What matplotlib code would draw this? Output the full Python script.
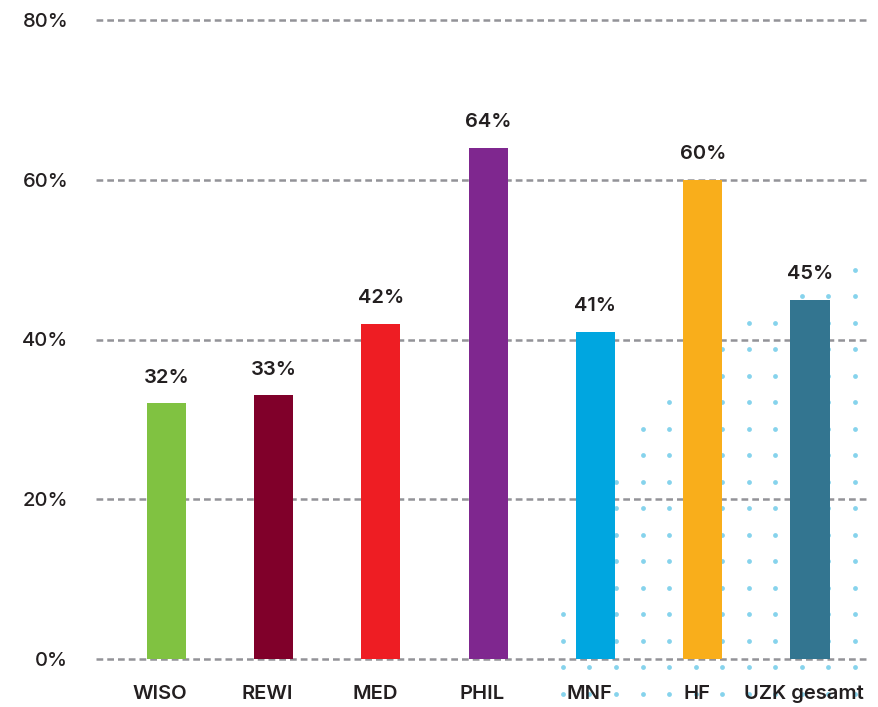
import numpy as np
import matplotlib
matplotlib.use("Agg")
import matplotlib.pyplot as plt
import matplotlib.transforms as mtransforms

plt.rcParams['font.family'] = ['Inter', 'DejaVu Sans']

# data
faculties = ["WISO", "REWI", "MED", "PHIL", "MNF", "HF", "UZK gesamt"]
shares = [32, 33, 42, 64, 41, 60, 45]
bar_colors = ["#80c241", "#80002a", "#ee1d23", "#7f278f", "#00a6e0", "#f9ae1b", "#337590"]
yticks = [0, 20, 40, 60, 80]

# decorative dot pattern (dots per column, left to right)
dot_counts = [4, 4, 9, 11, 12, 13, 14, 15, 15, 16, 16, 17]

text_col = "#231f20"

fig = plt.figure(figsize=(8.79, 7.07), dpi=100)
ax = fig.add_axes([96 / 879, 48 / 707, 774 / 879, 639 / 707])

x = np.arange(len(faculties))

# dots behind the bars
dx, dy = 0.2474, 3.32
x0, y0 = 3.697, -4.38
for k, n in enumerate(dot_counts):
    xs = np.full(n, x0 + k * dx)
    ys = y0 + np.arange(n) * dy
    ax.scatter(xs, ys, s=12, color="#86d3ec", linewidths=0, zorder=1, clip_on=False)

for yv in yticks:
    ax.axhline(yv, color="#939398", lw=1.8, ls=(0, (2.7, 1.6)), zorder=2, clip_on=False)

ax.bar(x, shares, width=0.364, color=bar_colors, zorder=3)

for xi, v in zip(x, shares):
    ax.annotate(f"{v}%", (xi, v), xytext=(0, 12), textcoords="offset points",
                ha="center", va="bottom", fontsize=14.5, fontweight="semibold", color=text_col)

ax.set_xlim(-0.655, 6.559)
ax.set_ylim(0, 80)
ax.set_xticks(x)
ax.set_xticklabels(faculties, fontsize=14.5, fontweight="semibold", color=text_col)
ax.set_yticks(yticks)
ax.set_yticklabels([f"{v}%" for v in yticks], fontsize=14.5, fontweight="medium", color=text_col)
ax.tick_params(axis="both", length=0)
ax.tick_params(axis="x", pad=19)
ax.tick_params(axis="y", pad=20)
for s in ax.spines.values():
    s.set_visible(False)

# labels sit a little left of the bar centres in the original
shift = mtransforms.ScaledTranslation(-6 / 100, 0, fig.dpi_scale_trans)
for lbl in ax.get_xticklabels():
    lbl.set_transform(lbl.get_transform() + shift)

fig.savefig("out.png", dpi=100)
